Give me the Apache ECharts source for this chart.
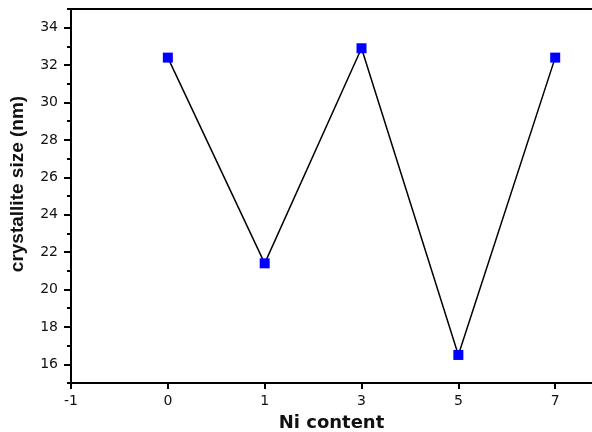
<!DOCTYPE html>
<html><head><meta charset="utf-8">
<script src="https://cdn.jsdelivr.net/npm/echarts@6/dist/echarts.min.js"></script>
<style>html,body{margin:0;padding:0;background:#fff}#c{width:592px;height:432px}</style>
</head><body><div id="c"></div>
<script>
const xLabels = ['-1', '0', '1', '3', '5', '7'];
const niContent = ['0', '1', '3', '5', '7'];
const crystalliteSize = [32.4, 21.4, 32.9, 16.5, 32.4];
const yMajor = [16, 18, 20, 22, 24, 26, 28, 30, 32, 34];
const yMinor = [15, 17, 19, 21, 23, 25, 27, 29, 31, 33, 35];

const xIdx = xLabels.map((_, i) => i);
const seriesData = niContent.map((c, i) => [xLabels.indexOf(c), crystalliteSize[i]]);
const chart = echarts.init(document.getElementById('c'));
const tickFont = 'DejaVu Sans, sans-serif';
const axisLine = { show: true, onZero: false, lineStyle: { color: '#000', width: 2 } };
chart.setOption({
  animation: false,
  grid: { left: 71, top: 9, right: 0, bottom: 49, containLabel: false, outerBoundsMode: 'none' },
  xAxis: [{
    type: 'value', min: 0, max: 5.38, interval: 1,
    name: 'Ni content', nameLocation: 'middle', nameGap: 31,
    nameTextStyle: { fontFamily: 'DejaVu Sans, sans-serif', fontWeight: 'bold', fontSize: 18, color: '#111' },
    axisLine: axisLine,
    axisTick: { show: true, length: 6, customValues: xIdx, lineStyle: { color: '#000', width: 2 } },
    axisLabel: { fontFamily: tickFont, fontSize: 14, color: '#111', margin: 11, customValues: xIdx,
      formatter: v => xLabels[Math.round(v)] },
    splitLine: { show: false }
  }, {
    type: 'value', min: 0, max: 5.38, position: 'top',
    axisLine: axisLine,
    axisTick: { show: false }, axisLabel: { show: false }, splitLine: { show: false }
  }],
  yAxis: [{
    type: 'value', min: 15, max: 35, interval: 1,
    name: 'crystallite size (nm)', nameLocation: 'middle', nameGap: 44,
    nameTextStyle: { fontFamily: 'Liberation Sans, Arial, sans-serif', fontWeight: 'bold', fontSize: 19, color: '#111', padding: [0, 0, 0, 24] },
    axisLine: axisLine,
    axisTick: { show: true, length: 7, customValues: yMajor, lineStyle: { color: '#000', width: 2 } },
    axisLabel: { fontFamily: tickFont, fontSize: 14, color: '#111', margin: 13, customValues: yMajor },
    splitLine: { show: false }
  }, {
    type: 'value', min: 15, max: 35, interval: 1, position: 'left',
    axisLine: { show: false },
    axisTick: { show: true, length: 4, customValues: yMinor, lineStyle: { color: '#000', width: 2 } },
    axisLabel: { show: false }, splitLine: { show: false }
  }],
  series: [{
    type: 'line', xAxisIndex: 0, yAxisIndex: 0, data: seriesData,
    symbol: 'rect', symbolSize: 10,
    itemStyle: { color: '#0000ff' },
    lineStyle: { color: '#000', width: 1.5 },
    z: 3
  }]
});
</script></body></html>
